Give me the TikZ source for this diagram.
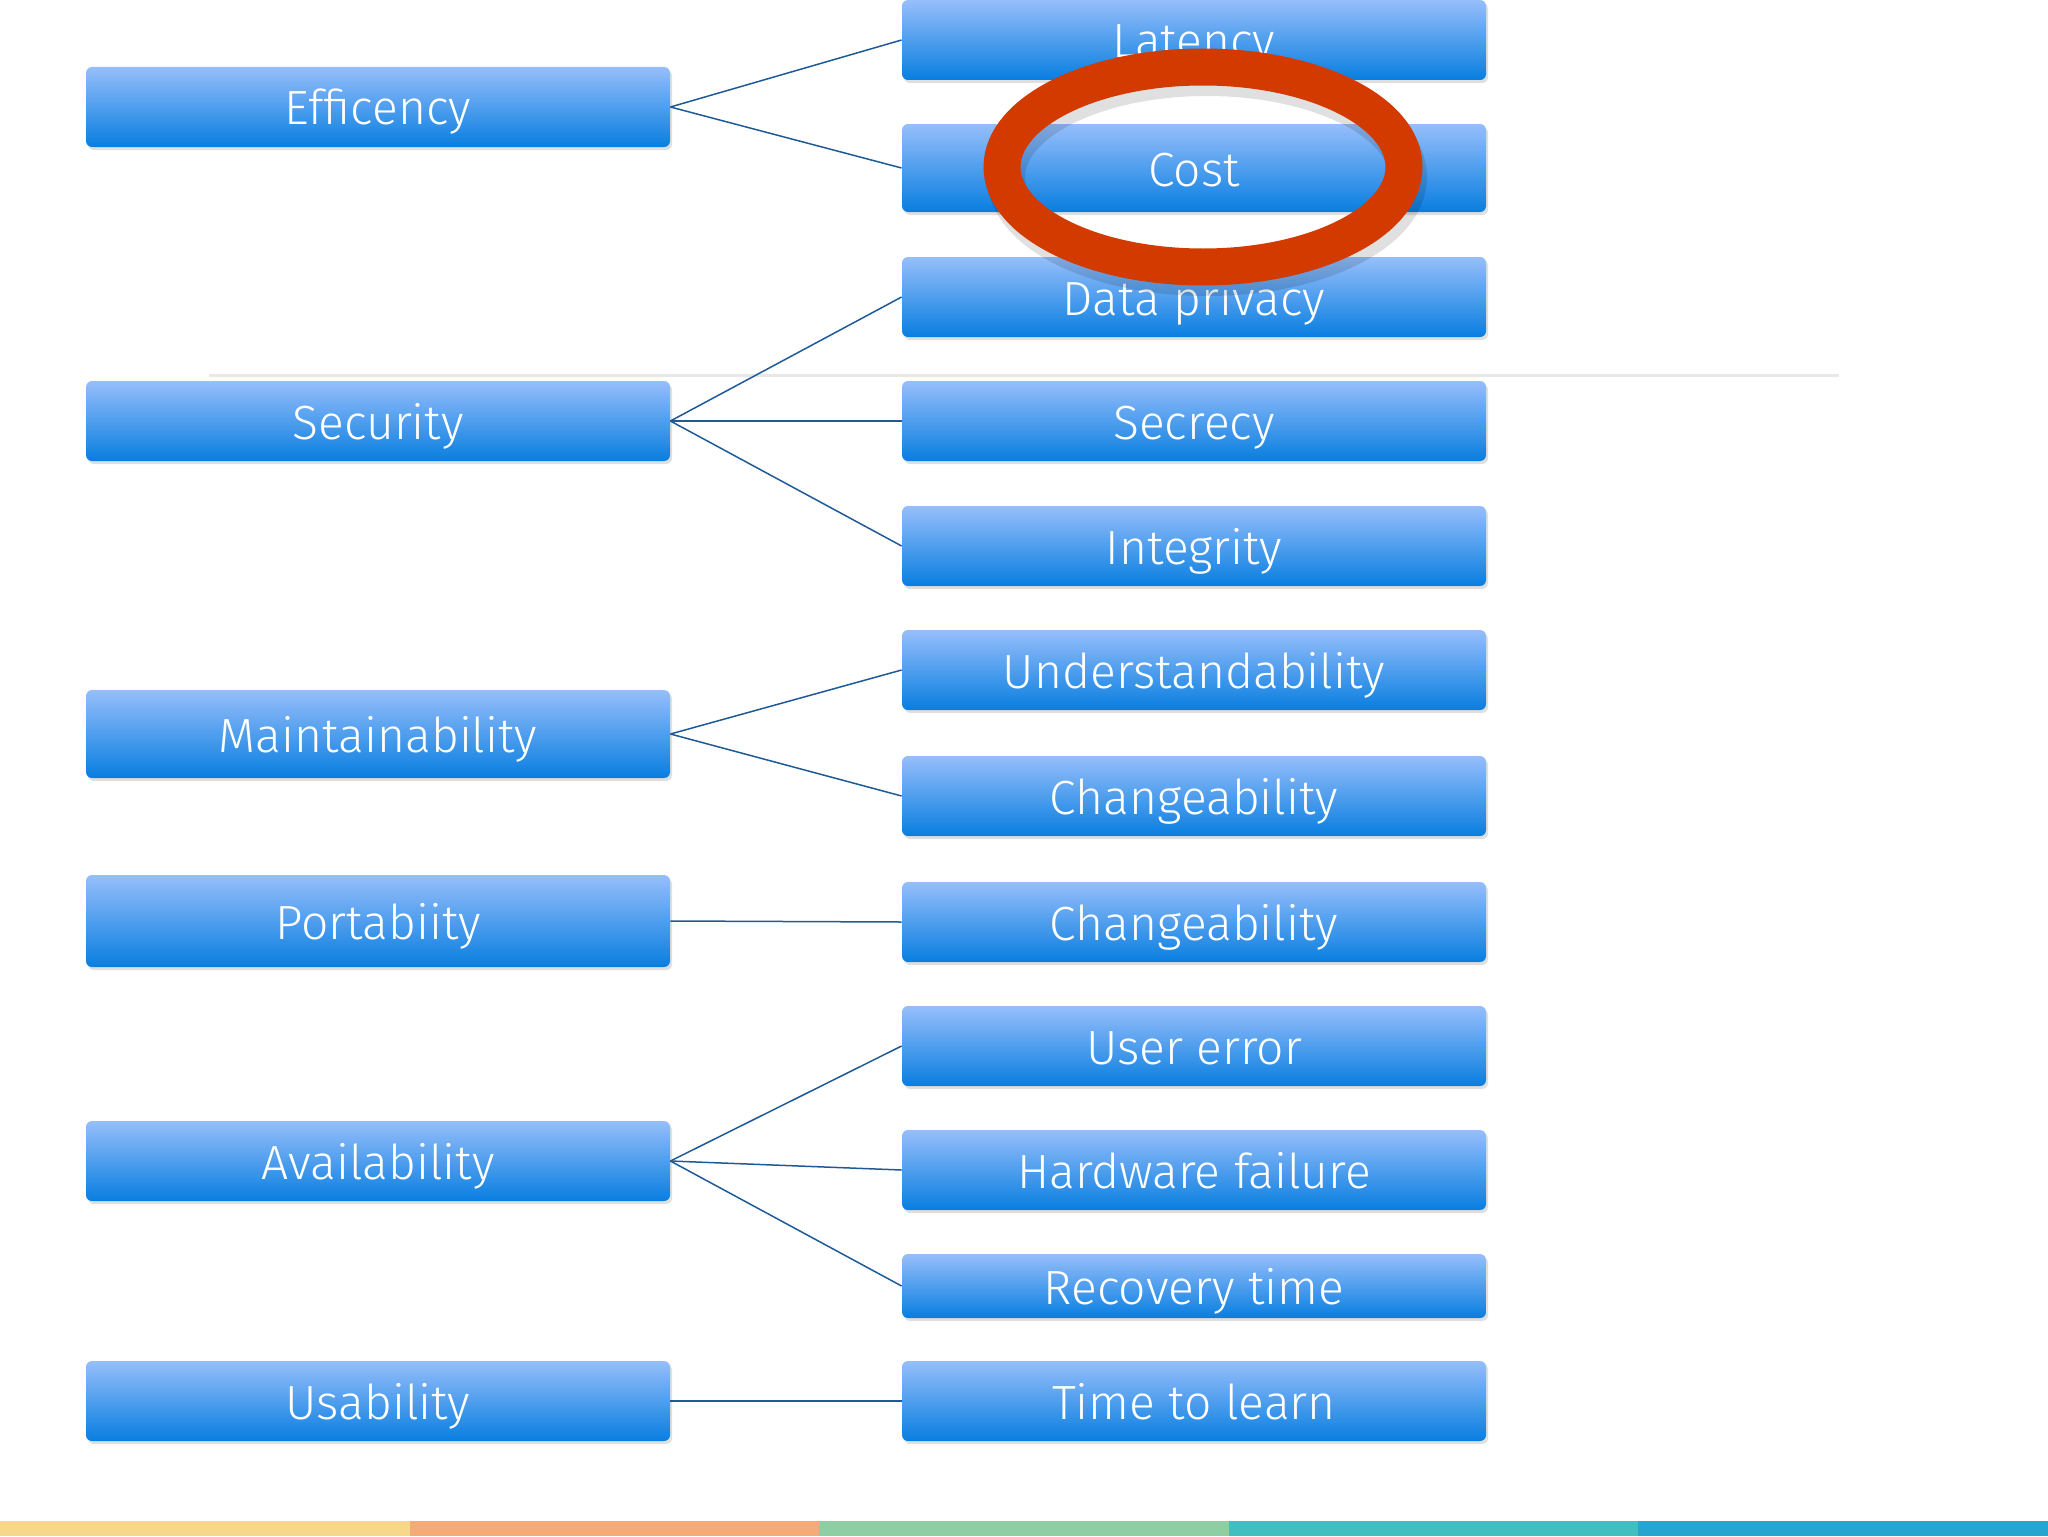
\documentclass[tikz,border=0pt]{standalone}
\usepackage{fontspec}
\setmainfont{Fira Sans}[UprightFont=* Light]
\usetikzlibrary{shadows}
\definecolor{boxtop}{RGB}{150,190,251}
\definecolor{boxbot}{RGB}{8,126,224}
\definecolor{linkblue}{RGB}{30,90,150}
\definecolor{ringred}{RGB}{210,58,0}
\definecolor{stripA}{RGB}{247,216,138}
\definecolor{stripB}{RGB}{243,172,120}
\definecolor{stripC}{RGB}{141,207,162}
\definecolor{stripD}{RGB}{65,190,191}
\definecolor{stripE}{RGB}{37,165,207}
\tikzstyle{qbox}=[rectangle, rounded corners=3pt, top color=boxtop, bottom color=boxbot,
    text=white, minimum width=292pt, minimum height=40pt, inner sep=0pt,
    text height=20pt, text depth=2pt,
    font=\fontsize{24}{28}\selectfont,
    drop shadow={shadow xshift=1pt, shadow yshift=-1.5pt, opacity=0.25}]
\tikzstyle{link}=[linkblue, line width=0.75pt]

\begin{document}
\begin{tikzpicture}[x=0.5pt, y=-0.5pt]
\useasboundingbox (0,0) rectangle (2048,1536);
% Separator and colour strip
    \draw[black!9, line width=1.5pt] (209,375) -- (1839,375);
    \fill[stripA] (0,1521) rectangle (410,1536);
    \fill[stripB] (410,1521) rectangle (819,1536);
    \fill[stripC] (819,1521) rectangle (1229,1536);
    \fill[stripD] (1229,1521) rectangle (1638,1536);
    \fill[stripE] (1638,1521) rectangle (2048,1536);
% Qualities
    \node[qbox] (eff) at (378,107) {Efficency};
    \node[qbox] (sec) at (378,421) {Security};
    \node[qbox, minimum height=44pt] (maint) at (378,734) {Maintainability};
    \node[qbox, minimum height=46pt] (port) at (378,921) {Portabiity};
    \node[qbox] (avail) at (378,1161) {Availability};
    \node[qbox] (usab) at (378,1401) {Usability};
% Sub-qualities
    \node[qbox] (lat) at (1194,40) {Latency};
    \node[qbox, minimum height=44pt] (cost) at (1194,168) {Cost};
    \node[qbox] (priv) at (1194,297) {Data privacy};
    \node[qbox] (secr) at (1194,421) {Secrecy};
    \node[qbox] (integ) at (1194,546) {Integrity};
    \node[qbox] (under) at (1194,670) {Understandability};
    \node[qbox] (chg) at (1194,796) {Changeability};
    \node[qbox] (chg2) at (1194,922) {Changeability};
    \node[qbox] (user) at (1194,1046) {User error};
    \node[qbox] (hw) at (1194,1170) {Hardware failure};
    \node[qbox, minimum height=32pt] (recov) at (1194,1286) {Recovery time};
    \node[qbox] (learn) at (1194,1401) {Time to learn};
% Links
    \draw[link] (eff.east) -- (lat.west);
    \draw[link] (eff.east) -- (cost.west);
    \draw[link] (sec.east) -- (priv.west);
    \draw[link] (sec.east) -- (secr.west);
    \draw[link] (sec.east) -- (integ.west);
    \draw[link] (maint.east) -- (under.west);
    \draw[link] (maint.east) -- (chg.west);
    \draw[link] (port.east) -- (chg2.west);
    \draw[link] (avail.east) -- (user.west);
    \draw[link] (avail.east) -- (hw.west);
    \draw[link] (avail.east) -- (recov.west);
    \draw[link] (usab.east) -- (learn.west);
% Ring round the cost
    \draw[black, opacity=0.12, line width=19pt] (1207,177) ellipse [x radius=201, y radius=100];
    \draw[ringred, line width=18.5pt] (1203,167) ellipse [x radius=201, y radius=100];
\end{tikzpicture}
\end{document}
